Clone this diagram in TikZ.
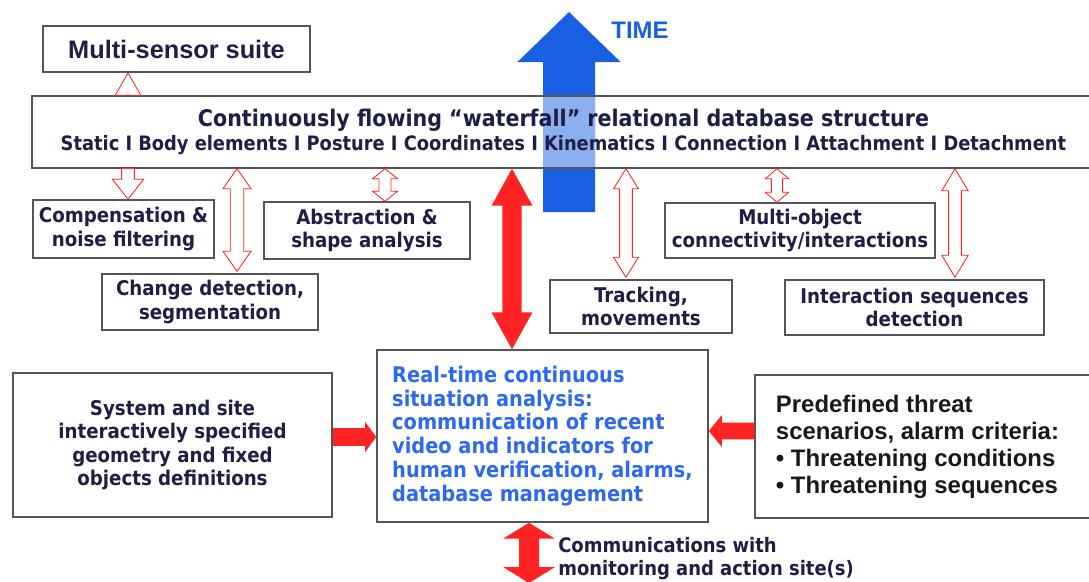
\documentclass[tikz,border=0pt]{standalone}
\usepackage{fontspec}
\setmainfont{Liberation Sans}
\newfontfamily\condfont{DejaVu Sans Condensed}
\usetikzlibrary{calc}

\definecolor{ink}{RGB}{30,30,70}
\definecolor{boxgray}{RGB}{85,85,85}
\definecolor{arrowred}{RGB}{255,35,35}
\definecolor{timeblue}{RGB}{25,95,225}
\definecolor{rtblue}{RGB}{45,105,240}

% sizes of the block arrows
\tikzset{hlen/.store in=\ahl, hwid/.store in=\ahw, swid/.store in=\asw,
  hlen=0.25cm, hwid=0.3cm, swid=0.15cm}

\begin{document}
\begin{tikzpicture}[x=0.025cm, y=-0.025cm]
        % Define block styles
        \tikzstyle{box} = [rectangle, draw=boxgray, line width=1pt, fill=white, text=ink, align=center, inner sep=0pt, font=\condfont\bfseries\fontsize{14.4}{16.4}\selectfont]
        \tikzstyle{dbbox} = [box, fill=none, minimum width=26.575cm, minimum height=1.8cm]
        \tikzstyle{bigbox} = [box, font=\bfseries\fontsize{17}{19.2}\selectfont]
        \tikzstyle{blockdbl} = [to path={let \p1=(\tikztostart), \p2=(\tikztotarget) in
            -- ($(\p1)!\ahl!(\p2)!\ahw!90:(\p2)$) -- ($(\p1)!\ahl!(\p2)!\asw!90:(\p2)$)
            -- ($(\p2)!\ahl!(\p1)!\asw!-90:(\p1)$) -- ($(\p2)!\ahl!(\p1)!\ahw!-90:(\p1)$)
            -- (\p2)
            -- ($(\p2)!\ahl!(\p1)!\ahw!90:(\p1)$) -- ($(\p2)!\ahl!(\p1)!\asw!90:(\p1)$)
            -- ($(\p1)!\ahl!(\p2)!\asw!-90:(\p2)$) -- ($(\p1)!\ahl!(\p2)!\ahw!-90:(\p2)$)
            -- cycle}]
        \tikzstyle{blocksgl} = [to path={let \p1=(\tikztostart), \p2=(\tikztotarget) in
            ($(\p1)!\asw!90:(\p2)$)
            -- ($(\p2)!\ahl!(\p1)!\asw!-90:(\p1)$) -- ($(\p2)!\ahl!(\p1)!\ahw!-90:(\p1)$)
            -- (\p2)
            -- ($(\p2)!\ahl!(\p1)!\ahw!90:(\p1)$) -- ($(\p2)!\ahl!(\p1)!\asw!90:(\p1)$)
            -- ($(\p1)!\asw!-90:(\p2)$) -- cycle}]
        \tikzstyle{hollowdbl} = [blockdbl, draw=arrowred, line width=0.6pt, fill=white]
        \tikzstyle{hollowsgl} = [blocksgl, draw=arrowred, line width=0.6pt, fill=white]
        \tikzstyle{soliddbl} = [blockdbl, fill=arrowred]
        \tikzstyle{solidsgl} = [blocksgl, fill=arrowred]

        \useasboundingbox[fill=white] (0,0) rectangle (1089,581);

        % Time arrow, behind the database (paler where it crosses it)
        \coordinate (timebase) at (569,212);
        \coordinate (timetip) at (569,12);
        \fill[blocksgl, timeblue, hlen=1.25cm, hwid=1.29cm, swid=0.65cm] (timebase) to (timetip);
        \fill[timeblue!50!white] (543,96) rectangle (595,168);
        \node[text=timeblue, font=\bfseries\fontsize{17}{19}\selectfont] (time) at (640,30) {TIME};

        % Nodes
        \node[box, font=\bfseries\fontsize{18}{20}\selectfont, minimum width=6.675cm, minimum height=1.15cm] (sensors) at (176.5,49) {Multi-sensor suite};
        \node[dbbox] (db) at (563.5,132) {{\bfseries\fontsize{16.3}{20}\selectfont Continuously flowing “waterfall” relational database structure}\\[0.8pt]
            {\condfont\bfseries\fontsize{14.1}{16}\selectfont Static I Body elements I Posture I Coordinates I Kinematics I Connection I Attachment I Detachment}};
        \node[box, minimum width=4.525cm, minimum height=1.45cm] (comp) at (123.5,229) {Compensation \&\\noise filtering};
        \node[box, minimum width=5.4cm, minimum height=1.4cm] (change) at (210,302) {Change detection,\\segmentation};
        \node[box, minimum width=5.15cm, minimum height=1.425cm] (abstr) at (367,230.5) {Abstraction \&\\shape analysis};
        \node[box, minimum width=4.55cm, minimum height=1.325cm] (track) at (641,306.5) {Tracking,\\movements};
        \node[box, minimum width=6.75cm, minimum height=1.375cm] (multiobj) at (800,230.5) {Multi-object\\connectivity/interactions};
        \node[box, minimum width=6.475cm, minimum height=1.375cm] (interseq) at (914.5,307.5) {Interaction sequences\\detection};
        \node[box, minimum width=7.975cm, minimum height=3.6cm] (sitedef) at (172.5,445) {System and site\\interactively specified\\geometry and fixed\\objects definitions};
        \node[box, text=rtblue, align=left, font=\condfont\bfseries\fontsize{15.3}{17}\selectfont, minimum width=8.275cm, minimum height=4.3cm] (analysis) at (542.5,436) {Real-time continuous\\situation analysis:\\communication of recent\\video and indicators for\\human verification, alarms,\\database management};
        \node[bigbox, text=black!90, align=left, minimum width=8.5cm, minimum height=3.575cm] (threats) at (925,446.5) {Predefined threat\\scenarios, alarm criteria:\\• Threatening conditions\\• Threatening sequences\hspace*{0.4cm}};
        \coordinate (commend) at (529,583);
        \node[text=ink, align=left, anchor=west, inner sep=0pt, font=\condfont\bfseries\fontsize{14.2}{16.4}\selectfont] (comm) at (558,559) {Communications with\\monitoring and action site(s)};

        % Arrows
        \draw[hollowsgl, hlen=0.57cm, hwid=0.32cm, swid=0.1cm] ($(sensors.south |- db.north)+(-48.5,0)$) to ($(sensors.south)+(-48.5,0)$);
        \draw[hollowsgl, hlen=0.5cm, hwid=0.39cm, swid=0.16cm] ($(comp.north |- db.south)+(4.5,0)$) to ($(comp.north)+(4.5,0)$);
        \draw[hollowdbl, hlen=0.5cm, hwid=0.35cm, swid=0.17cm] ($(change.north |- db.south)+(27,0)$) to ($(change.north)+(27,-2)$);
        \draw[hollowdbl, hlen=0.25cm, hwid=0.31cm, swid=0.15cm] ($(abstr.north |- db.south)+(18,0)$) to ($(abstr.north)+(18,0)$);
        \draw[hollowdbl, hlen=0.5cm, hwid=0.31cm, swid=0.16cm] ($(track.north |- db.south)+(-15,0)$) to ($(track.north)+(-15,-2)$);
        \draw[hollowdbl, hlen=0.25cm, hwid=0.29cm, swid=0.14cm] ($(multiobj.north |- db.south)+(-23,0)$) to ($(multiobj.north)+(-23,0)$);
        \draw[hollowdbl, hlen=0.55cm, hwid=0.33cm, swid=0.16cm] ($(interseq.north |- db.south)+(40.5,0)$) to ($(interseq.north)+(40.5,-2)$);
        \fill[soliddbl, hlen=0.92cm, hwid=0.51cm, swid=0.24cm] ($(analysis.north |- db.south)+(-30.5,0)$) to ($(analysis.north)+(-30.5,0)$);
        \fill[solidsgl, hlen=0.28cm, hwid=0.38cm, swid=0.22cm] ($(sitedef.east)+(0,-8)$) to ($(analysis.west)+(0,1)$);
        \fill[solidsgl, hlen=0.33cm, hwid=0.4cm, swid=0.21cm] ($(threats.west)+(0,-15.5)$) to ($(analysis.east)+(0,-5)$);
        \fill[soliddbl, hlen=0.4cm, hwid=0.65cm, swid=0.25cm] ($(analysis.south)+(-13.5,0)$) to (commend);

\end{tikzpicture}
\end{document}
